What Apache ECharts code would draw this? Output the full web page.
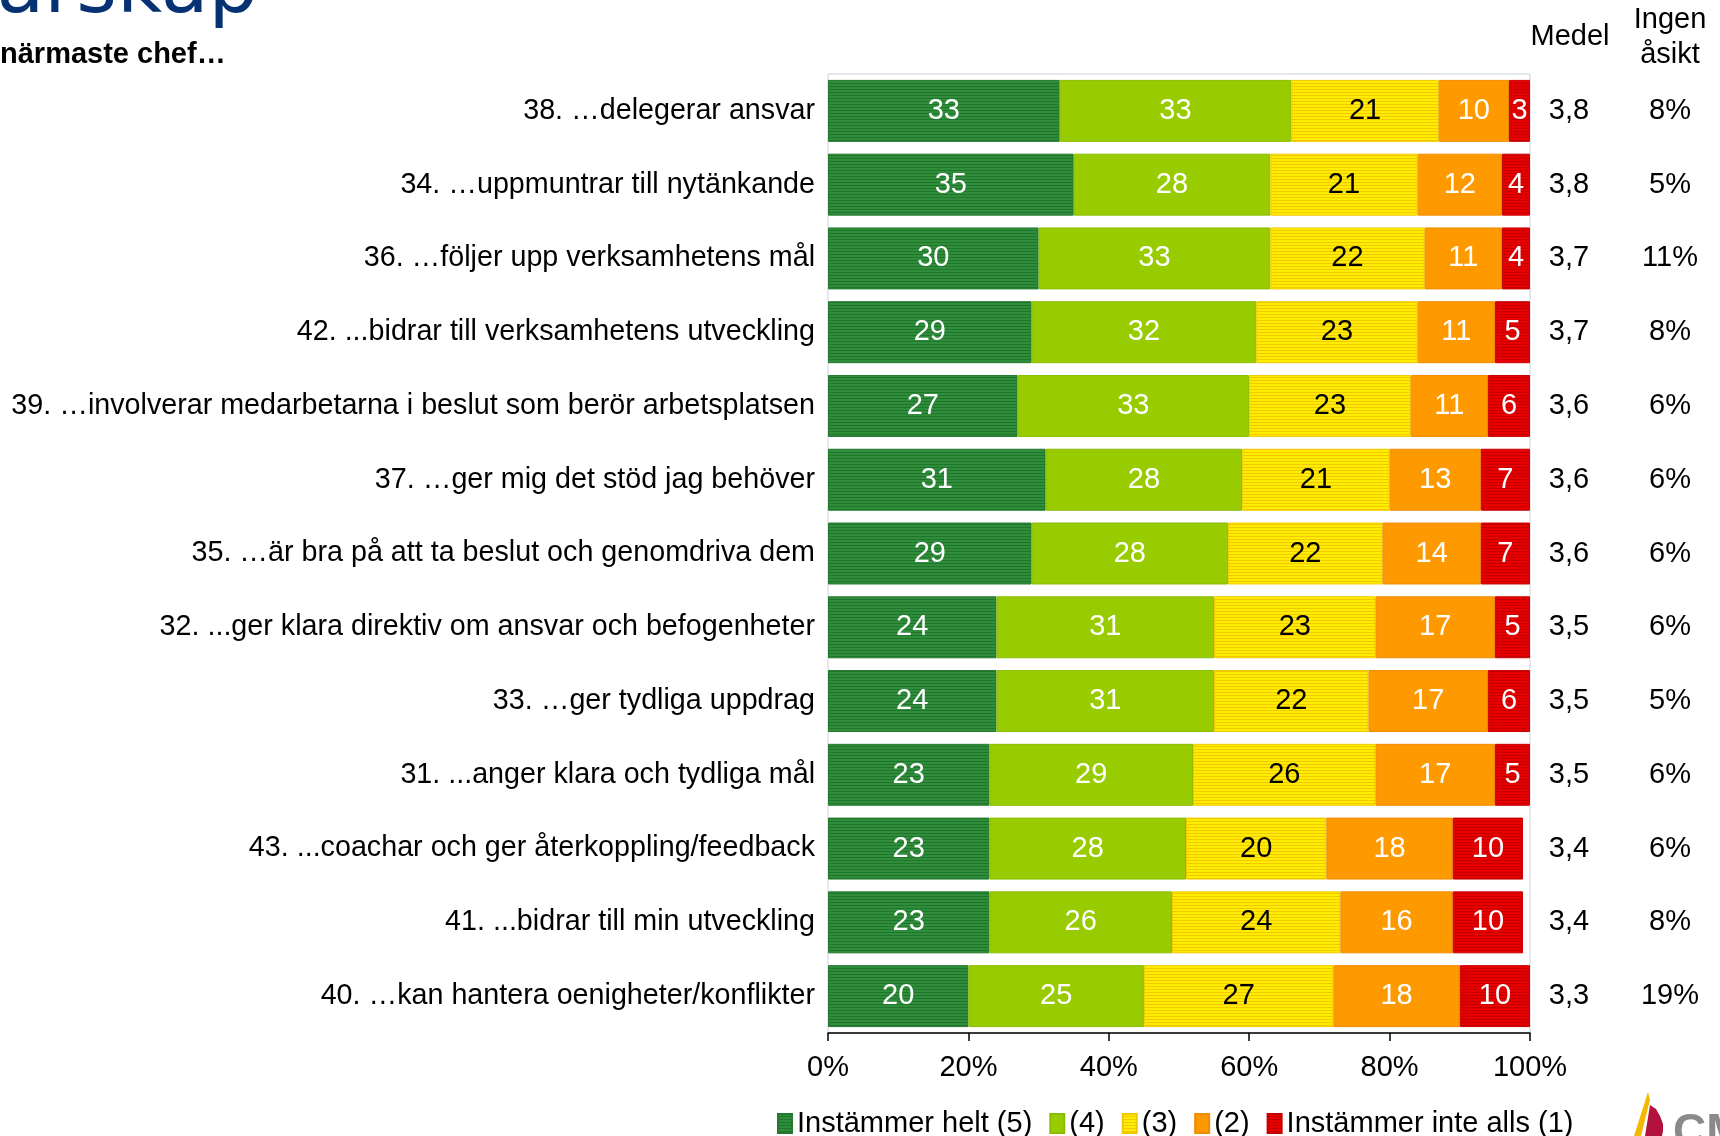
<!DOCTYPE html>
<html>
<head>
<meta charset="utf-8">
<script src="https://cdn.jsdelivr.net/npm/echarts@6/dist/echarts.min.js"></script>
<style>
  html, body { margin: 0; padding: 0; background: #fff; }
  #chart { width: 1720px; height: 1136px; }
</style>
</head>
<body>
<div id="chart"></div>
<script>
// Survey items, top to bottom
const categories = [
  '38. …delegerar ansvar',
  '34. …uppmuntrar till nytänkande',
  '36. …följer upp verksamhetens mål',
  '42. ...bidrar till verksamhetens utveckling',
  '39. …involverar medarbetarna i beslut som berör arbetsplatsen',
  '37. …ger mig det stöd jag behöver',
  '35. …är bra på att ta beslut och genomdriva dem',
  '32. ...ger klara direktiv om ansvar och befogenheter',
  '33. …ger tydliga uppdrag',
  '31. ...anger klara och tydliga mål',
  '43. ...coachar och ger återkoppling/feedback',
  '41. ...bidrar till min utveckling',
  '40. …kan hantera oenigheter/konflikter'
];

// Answer shares in percent
const helt5 = [33, 35, 30, 29, 27, 31, 29, 24, 24, 23, 23, 23, 20];
const svar4 = [33, 28, 33, 32, 33, 28, 28, 31, 31, 29, 28, 26, 25];
const svar3 = [21, 21, 22, 23, 23, 21, 22, 23, 22, 26, 20, 24, 27];
const svar2 = [10, 12, 11, 11, 11, 13, 14, 17, 17, 17, 18, 16, 18];
const inte1 = [3, 4, 4, 5, 6, 7, 7, 5, 6, 5, 10, 10, 10];

// Side columns
const medel = ['3,8', '3,8', '3,7', '3,7', '3,6', '3,6', '3,6', '3,5', '3,5', '3,5', '3,4', '3,4', '3,3'];
const ingenAsikt = ['8%', '5%', '11%', '8%', '6%', '6%', '6%', '6%', '5%', '6%', '6%', '8%', '19%'];

const seriesNames = ['Instämmer helt (5)', '(4)', '(3)', '(2)', 'Instämmer inte alls (1)'];
const xTicks = [0, 20, 40, 60, 80, 100];

const FONT = '"Liberation Sans", Arial, sans-serif';

// Horizontal pin-stripe fill used for some of the segments
function stripes(base, line) {
  const c = document.createElement('canvas');
  c.width = 4; c.height = 3;
  const ctx = c.getContext('2d');
  ctx.fillStyle = base; ctx.fillRect(0, 0, 4, 3);
  ctx.fillStyle = line; ctx.fillRect(0, 2, 4, 1);
  return { image: c, repeat: 'repeat' };
}

const fills = [
  stripes('#2f8d3b', '#1f762b'),
  '#99cc00',
  stripes('#ffee00', '#f3c800'),
  '#ff9900',
  stripes('#e80000', '#c40000')
];
const borders = ['#237a2e', '#8cbc00', '#f0c800', '#f08c00', '#c80000'];
const labelColors = ['#fff', '#fff', '#000', '#fff', '#fff'];
const values = [helt5, svar4, svar3, svar2, inte1];

const chart = echarts.init(document.getElementById('chart'), null, { renderer: 'canvas' });

const series = values.map((vals, i) => ({
  name: seriesNames[i],
  type: 'bar',
  stack: 'total',
  barCategoryGap: '16%',
  data: vals,
  itemStyle: { color: fills[i], borderColor: borders[i], borderWidth: 1 },
  label: {
    show: true,
    position: 'inside',
    color: labelColors[i],
    fontFamily: FONT,
    fontSize: 29
  },
  emphasis: { disabled: true }
}));

chart.setOption({
  animation: false,
  textStyle: { fontFamily: FONT },
  grid: {
    left: 828, right: 190, top: 74, bottom: 103,
    show: true, borderColor: '#ccd0dc', borderWidth: 1, backgroundColor: '#fff'
  },
  legend: {
    left: 772, top: 1104,
    itemWidth: 14, itemHeight: 19, itemGap: 17,
    icon: 'rect',
    textStyle: { fontFamily: FONT, fontSize: 29, color: '#000' },
    data: seriesNames
  },
  xAxis: {
    type: 'value',
    min: xTicks[0], max: xTicks[xTicks.length - 1], interval: 20,
    axisLine: { show: true, lineStyle: { color: '#000', width: 1.5 } },
    axisTick: { show: true, length: 8, lineStyle: { color: '#000', width: 1.5 } },
    splitLine: { show: false },
    axisLabel: { formatter: '{value}%', fontSize: 29, color: '#000', margin: 20, fontFamily: FONT }
  },
  yAxis: [
    {
      type: 'category', data: categories, inverse: true,
      axisLine: { show: false }, axisTick: { show: false },
      axisLabel: { fontSize: 28.7, color: '#000', margin: 13, fontFamily: FONT }
    },
    {
      type: 'category', data: categories, inverse: true, position: 'right',
      axisLine: { show: false }, axisTick: { show: false },
      axisLabel: {
        fontSize: 29, color: '#000', margin: 39, align: 'center', fontFamily: FONT,
        formatter: (v, i) => medel[i]
      }
    },
    {
      type: 'category', data: categories, inverse: true, position: 'right',
      axisLine: { show: false }, axisTick: { show: false },
      axisLabel: {
        fontSize: 29, color: '#000', margin: 140, align: 'center', fontFamily: FONT,
        formatter: (v, i) => ingenAsikt[i]
      }
    }
  ],
  series: series,
  graphic: [
    // Heading, partly running off the top-left corner of the slide
    {
      type: 'text', x: 258, y: 31,
      style: {
        text: 'Ledarskap', fill: '#063274', font: '78px "DejaVu Sans", sans-serif',
        align: 'right', verticalAlign: 'bottom'
      }
    },
    {
      type: 'text', x: 0, y: 55,
      style: {
        text: 'närmaste chef…', fill: '#000', font: 'bold 29px ' + FONT,
        align: 'left', verticalAlign: 'middle'
      }
    },
    // Column headers
    {
      type: 'text', x: 1570, y: 37,
      style: { text: 'Medel', fill: '#000', font: '29px ' + FONT, align: 'center', verticalAlign: 'middle' }
    },
    {
      type: 'text', x: 1670, y: 20,
      style: { text: 'Ingen', fill: '#000', font: '29px ' + FONT, align: 'center', verticalAlign: 'middle' }
    },
    {
      type: 'text', x: 1670, y: 55,
      style: { text: 'åsikt', fill: '#000', font: '29px ' + FONT, align: 'center', verticalAlign: 'middle' }
    },
    // Logo in the bottom-right corner
    {
      type: 'polygon',
      shape: { points: [[1648, 1092], [1650, 1100], [1641, 1136], [1634, 1136]] },
      style: { fill: '#f5b800' }
    },
    {
      type: 'polygon',
      shape: {
        points: [[1650, 1105], [1656, 1109], [1660, 1116], [1663, 1124], [1663, 1131],
                 [1662, 1136], [1645, 1136]]
      },
      style: { fill: '#b3123e' }
    },
    {
      type: 'text', x: 1673, y: 1110,
      style: { text: 'CM', fill: '#8a8a8a', font: 'bold 46px ' + FONT, align: 'left', verticalAlign: 'top' }
    }
  ]
});
</script>
</body>
</html>
